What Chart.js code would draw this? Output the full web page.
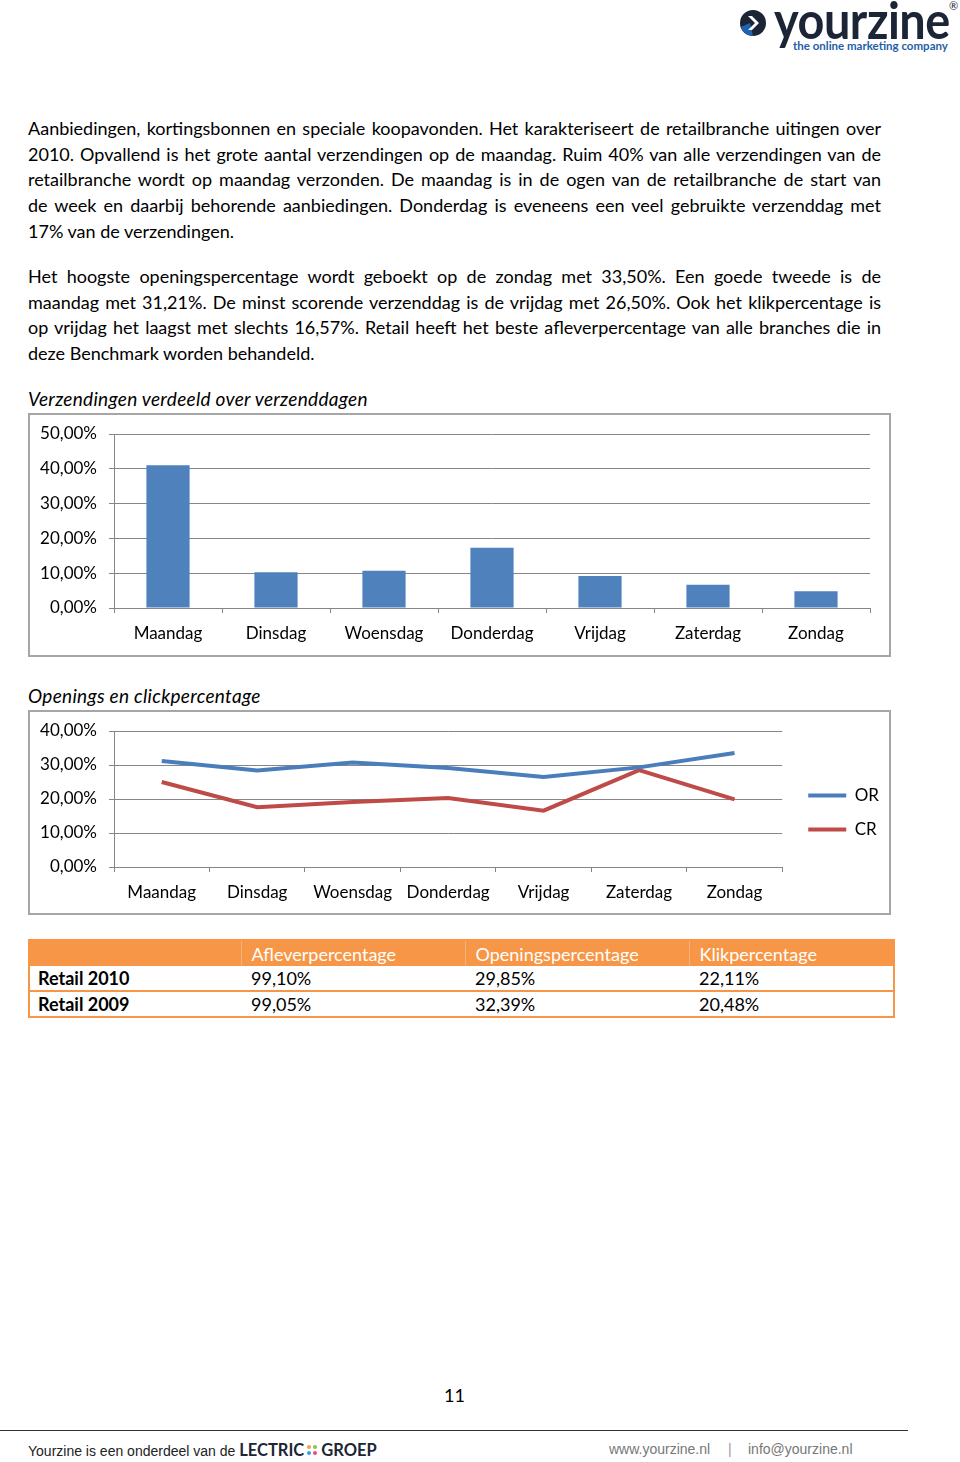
<!DOCTYPE html>
<html>
<head>
<meta charset="utf-8">
<script src="https://cdn.jsdelivr.net/npm/chart.js@4.4.1/dist/chart.umd.min.js"></script>
<style>
body { margin: 0; width: 960px; height: 1462px; position: relative; background: #fff; font-family: Lato, sans-serif; color: #000; overflow: hidden; }
.abs { position: absolute; }
.txt { left: 28px; width: 853px; font-size: 18px; }
.ln { height: 25.7px; line-height: 25.7px; text-align: justify; text-align-last: justify; }
.ln.last { text-align-last: left; }
.title { left: 28px; font-size: 19px; font-style: italic; letter-spacing: 0.3px; }
.box { left: 28px; width: 863px; border: 2px solid #a6a6a6; box-sizing: border-box; }
.box canvas { display: block; }
table { border-collapse: collapse; font-size: 18px; table-layout: fixed; }
td { padding: 0 0 0 10px; height: 25px; box-sizing: border-box; }
.foot { font-family: 'Liberation Sans Narrow', sans-serif; font-size: 14px; }
.foot b { font-family: Lato, sans-serif; font-size: 16.5px; color: #1b2535; letter-spacing: 0px; }
</style>
</head>
<body>

<!-- logo -->
<svg class="abs" style="left:739px;top:9px" width="28" height="28" viewBox="0 0 28 28">
  <circle cx="14" cy="14" r="13" fill="#1b2535"/>
  <path d="M14 27 A13 13 0 0 1 1.6 18 L11 14 Z" fill="#1e63b0"/>
  <polygon points="9,7 13,7 20,14 13,21 9,21 16,14" fill="#fff"/>
</svg>
<div class="abs" style="left:774px;top:-12px;font-size:52px;font-weight:700;color:#1b2535;transform:scaleX(0.9);transform-origin:left top;letter-spacing:-0.5px">yourzine</div>
<div class="abs" style="left:949px;top:-1px;font-size:11px;color:#1b2535">®</div>
<div class="abs" style="left:793px;top:39px;font-size:11.5px;font-weight:700;color:#1f5ea8">the online marketing company</div>

<!-- body text -->
<div class="abs txt" style="top:116px">
  <div class="ln">Aanbiedingen, kortingsbonnen en speciale koopavonden. Het karakteriseert de retailbranche uitingen over</div>
  <div class="ln">2010. Opvallend is het grote aantal verzendingen op de maandag. Ruim 40% van alle verzendingen van de</div>
  <div class="ln">retailbranche wordt op maandag verzonden. De maandag is in de ogen van de retailbranche de start van</div>
  <div class="ln">de week en daarbij behorende aanbiedingen. Donderdag is eveneens een veel gebruikte verzenddag met</div>
  <div class="ln last">17% van de verzendingen.</div>
</div>
<div class="abs txt" style="top:264px">
  <div class="ln">Het hoogste openingspercentage wordt geboekt op de zondag met 33,50%. Een goede tweede is de</div>
  <div class="ln">maandag met 31,21%. De minst scorende verzenddag is de vrijdag met 26,50%. Ook het klikpercentage is</div>
  <div class="ln">op vrijdag het laagst met slechts 16,57%. Retail heeft het beste afleverpercentage van alle branches die in</div>
  <div class="ln last">deze Benchmark worden behandeld.</div>
</div>

<!-- chart 1 -->
<div class="abs title" style="top:387px">Verzendingen verdeeld over verzenddagen</div>
<div class="abs box" style="top:413px;height:244px">
  <canvas id="barChart" width="859" height="240"></canvas>
</div>

<!-- chart 2 -->
<div class="abs title" style="top:684px">Openings en clickpercentage</div>
<div class="abs box" style="top:710px;height:205px">
  <canvas id="lineChart" width="859" height="201"></canvas>
</div>

<!-- table -->
<table class="abs" style="left:28px;top:939px;width:867px;border:2px solid #f79646">
  <colgroup><col style="width:212px"><col style="width:224px"><col style="width:224px"><col></colgroup>
  <tr style="background:#f79646;color:#fff">
    <td style="height:26px"></td>
    <td style="border-left:1px solid #f9b27a">Afleverpercentage</td>
    <td style="border-left:1px solid #f9b27a">Openingspercentage</td>
    <td style="border-left:1px solid #f9b27a">Klikpercentage</td>
  </tr>
  <tr style="border-bottom:2px solid #f79646">
    <td style="padding-left:8px;font-weight:700">Retail 2010</td>
    <td>99,10%</td>
    <td>29,85%</td>
    <td>22,11%</td>
  </tr>
  <tr>
    <td style="padding-left:8px;font-weight:700;height:26px">Retail 2009</td>
    <td>99,05%</td>
    <td>32,39%</td>
    <td>20,48%</td>
  </tr>
</table>

<!-- page number + footer -->
<div class="abs" style="left:444px;top:1384px;font-size:18px">11</div>
<div class="abs" style="left:0;top:1430px;width:908px;height:0;border-top:1.5px solid #333"></div>
<div class="abs foot" style="left:28px;top:1440px;color:#222">
  Yourzine is een onderdeel van de <b>LECTRIC</b><svg width="13" height="13" viewBox="0 0 13 13" style="vertical-align:-1px;margin:0 2px">
    <circle cx="3" cy="3" r="2" fill="#f2a33a"/><circle cx="9" cy="3" r="2" fill="#8cc63f"/>
    <circle cx="3" cy="9" r="2" fill="#29a8e0"/><circle cx="9" cy="9" r="2" fill="#e84c8b"/>
  </svg><b>GROEP</b>
</div>
<div class="abs foot" style="left:609px;top:1441px;color:#777">www.yourzine.nl</div>
<div class="abs foot" style="left:728px;top:1441px;color:#999">|</div>
<div class="abs foot" style="left:748px;top:1441px;color:#777">info@yourzine.nl</div>

<script>
// ---- data ----
const days = ["Maandag", "Dinsdag", "Woensdag", "Donderdag", "Vrijdag", "Zaterdag", "Zondag"];
const verzendingen = [41.0, 10.3, 10.7, 17.3, 9.2, 6.7, 4.8];
const openRate = [31.21, 28.4, 30.7, 29.1, 26.50, 29.3, 33.50];
const clickRate = [25.0, 17.6, 19.1, 20.3, 16.57, 28.5, 19.9];
const barAxis = { min: 0, max: 50, step: 10 };
const lineAxis = { min: 0, max: 40, step: 10 };

const pct = v => v.toFixed(2).replace(".", ",") + "%";
const gridGrey = "#868686";

// vaste breedte voor de y-as, zonder extra ruimte boven/onder voor de labels
const fixY = s => { s.width = 84; s.paddingTop = 0; s.paddingBottom = 0; };

Chart.defaults.font.family = "Lato";
Chart.defaults.font.size = 17;
Chart.defaults.color = "#000";

// ---- staafdiagram verzendingen ----
new Chart(document.getElementById("barChart"), {
    type: "bar",
    data: {
        labels: days,
        datasets: [{
            data: verzendingen,
            backgroundColor: "#4f81bd",
            barPercentage: 0.4,
            categoryPercentage: 1,
        }],
    },
    options: {
        responsive: false,
        animation: false,
        layout: { padding: { top: 19, right: 19, left: 0, bottom: 0 } },
        plugins: { legend: { display: false }, tooltip: { enabled: false } },
        scales: {
            x: {
                grid: { offset: true, drawOnChartArea: false, tickLength: 5, color: gridGrey },
                border: { color: gridGrey },
                ticks: { padding: 10 },
                afterFit: s => { s.height = 47; }
            },
            y: {
                min: barAxis.min,
                max: barAxis.max,
                ticks: { stepSize: barAxis.step, padding: 12, callback: pct },
                grid: { color: gridGrey, tickLength: 5 },
                border: { color: gridGrey },
                afterFit: fixY
            }
        }
    }
});

// ---- lijndiagram OR / CR ----
new Chart(document.getElementById("lineChart"), {
    type: "line",
    data: {
        labels: days,
        datasets: [
            { label: "OR", data: openRate, borderColor: "#4a7ebb", backgroundColor: "#4a7ebb", borderWidth: 4, pointRadius: 0, tension: 0 },
            { label: "CR", data: clickRate, borderColor: "#be4b48", backgroundColor: "#be4b48", borderWidth: 4, pointRadius: 0, tension: 0 },
        ],
    },
    options: {
        responsive: false,
        animation: false,
        layout: { padding: 0 },
        plugins: {
            tooltip: { enabled: false },
            legend: {
                position: "right",
                labels: { usePointStyle: true, pointStyle: "line", pointStyleWidth: 38, padding: 17, font: { size: 17 } }
            }
        },
        scales: {
            x: {
                offset: true,
                grid: { offset: true, drawOnChartArea: false, tickLength: 5, color: gridGrey },
                border: { color: gridGrey },
                ticks: { padding: 10 },
                afterFit: s => { s.height = 46; }
            },
            y: {
                min: lineAxis.min,
                max: lineAxis.max,
                ticks: { stepSize: lineAxis.step, padding: 12, callback: pct },
                grid: { color: gridGrey, tickLength: 5 },
                border: { color: gridGrey },
                afterFit: fixY
            },
            // lege ruimte boven het plotvlak en tussen plotvlak en legenda
            top: {
                position: "top",
                grid: { display: false },
                border: { display: false },
                ticks: { display: false },
                afterFit: s => { s.height = 19; }
            },
            gap: {
                position: "right",
                grid: { display: false },
                border: { display: false },
                ticks: { display: false },
                afterFit: s => { s.width = 9; s.paddingTop = 0; s.paddingBottom = 0; }
            }
        }
    }
});
</script>
</body>
</html>
